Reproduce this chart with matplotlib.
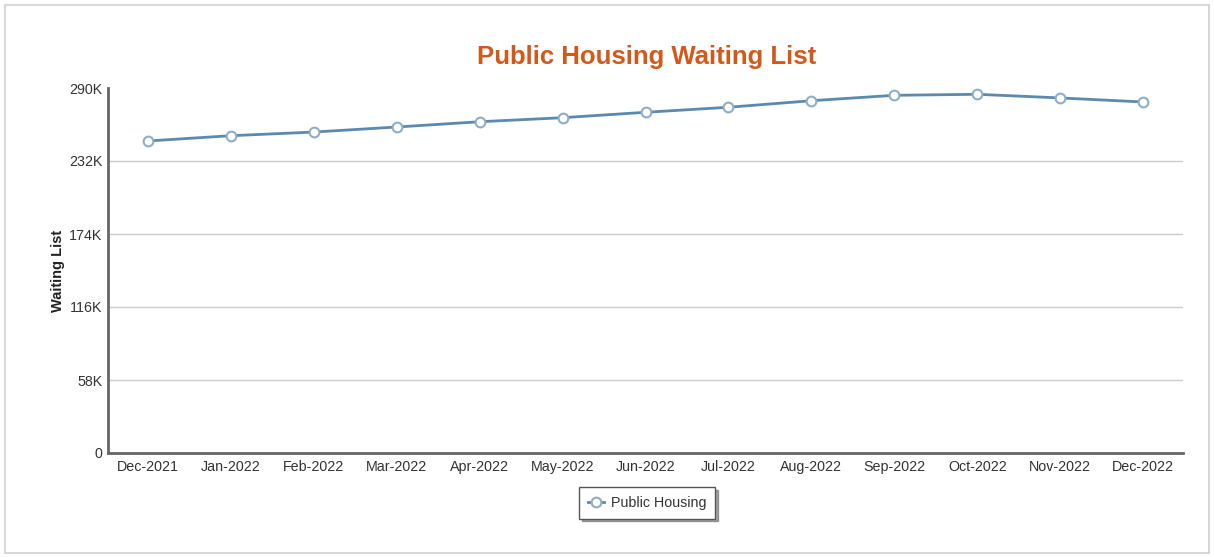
import matplotlib.pyplot as plt
from matplotlib.patches import Rectangle
from matplotlib.ticker import FixedLocator

plt.rcParams['font.family'] = ['Liberation Sans', 'DejaVu Sans']

# data (thousands)
months = ['Dec-2021', 'Jan-2022', 'Feb-2022', 'Mar-2022', 'Apr-2022', 'May-2022',
          'Jun-2022', 'Jul-2022', 'Aug-2022', 'Sep-2022', 'Oct-2022', 'Nov-2022',
          'Dec-2022']
waiting = [247.9, 252.1, 255.0, 259.0, 263.2, 266.4, 270.7, 274.7, 279.9,
           284.2, 285.0, 282.1, 278.9]
y_ticks = [0, 58, 116, 174, 232, 290]
y_labels = ['0', '58K', '116K', '174K', '232K', '290K']

fig = plt.figure(figsize=(12.14, 5.57), dpi=100)
ax = fig.add_axes([108 / 1214, 104 / 557, 1075 / 1214, 365 / 557])

# outer frame of the screenshot
fig.patches.append(Rectangle((5 / 1214, 4 / 557), 1204 / 1214, 548 / 557,
                             transform=fig.transFigure, fill=False,
                             edgecolor='#d0d0d0', linewidth=1.2))

x = list(range(len(months)))
ax.plot(x, waiting, color='#5a8ab0', linewidth=2, marker='o', markersize=7,
        markerfacecolor='white', markeredgecolor='#8eaec6', markeredgewidth=1.5,
        label='Public Housing', zorder=3)

ax.set_xlim(-0.48, 12.48)
ax.set_ylim(0, 290)
ax.yaxis.set_major_locator(FixedLocator(y_ticks))
ax.set_yticklabels(y_labels)
ax.set_xticks(x)
ax.set_xticklabels(months)
ax.tick_params(axis='both', length=0, labelsize=10.3, colors='#333333')
ax.tick_params(axis='x', pad=5)
ax.tick_params(axis='y', pad=4)

# gridlines between the axis and the top, none on the top tick
for v in y_ticks[1:-1]:
    ax.axhline(v, color='#cccccc', linewidth=1, zorder=1)

for side in ['top', 'right']:
    ax.spines[side].set_visible(False)
for side in ['left', 'bottom']:
    ax.spines[side].set_color('#666666')
    ax.spines[side].set_linewidth(2)

ax.set_ylabel('Waiting List', fontsize=10.5, fontweight='bold', color='#222222',
              labelpad=3)

fig.text(647 / 1214, 1 - 57 / 557, 'Public Housing Waiting List', ha='center',
         va='center', fontsize=18.5, fontweight='bold', color='#d4581a')

leg = fig.legend(loc='center', bbox_to_anchor=(647 / 1214, 1 - 503 / 557),
                 fontsize=10.3, frameon=True, fancybox=False, shadow=True,
                 handlelength=1.1, borderpad=0.6, handletextpad=0.5)
leg.get_frame().set_edgecolor('#555555')
leg.get_frame().set_linewidth(1)
for t in leg.get_texts():
    t.set_color('#333333')

fig.savefig('out.png', dpi=100)
